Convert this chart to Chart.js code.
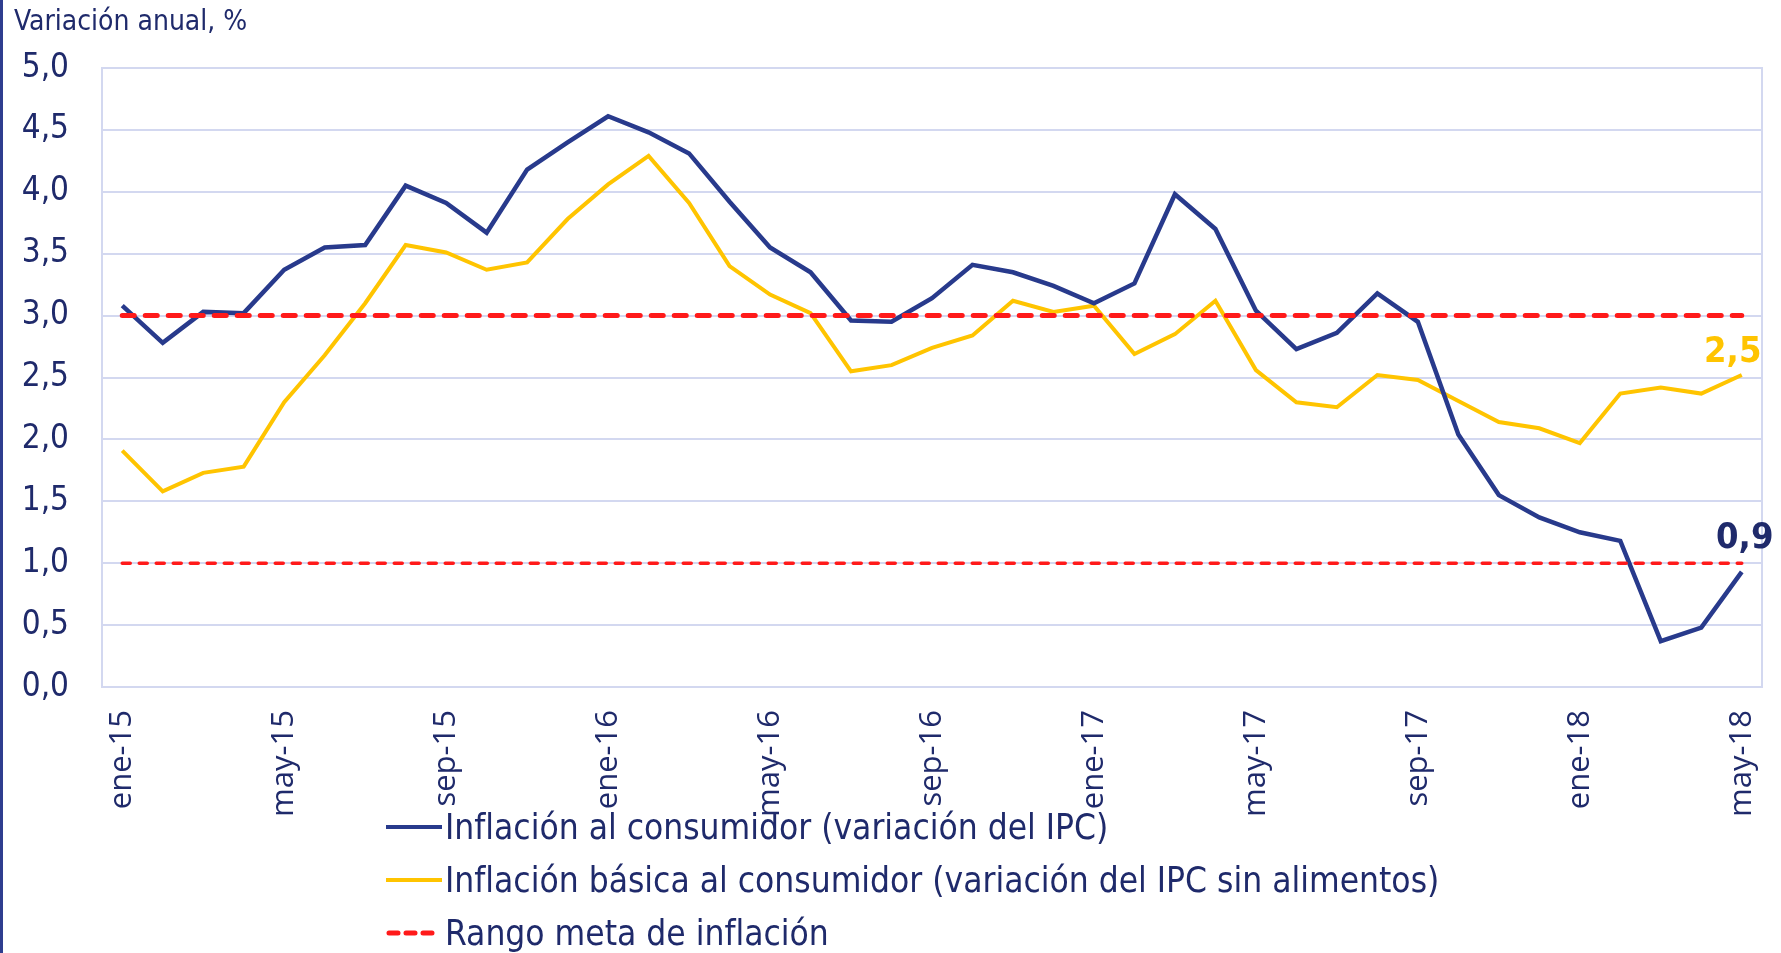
<!DOCTYPE html>
<html lang="es">
<head>
<meta charset="utf-8">
<script src="https://cdn.jsdelivr.net/npm/chart.js@4.4.1/dist/chart.umd.min.js"></script>
<style>
  html, body { margin: 0; padding: 0; background: #fff; }
  #wrap { position: relative; width: 1781px; height: 953px; overflow: hidden; }
  #borde { position: absolute; left: 0; top: 0; width: 3px; height: 953px; background: #2e3d8f; }
  #leyenda { position: absolute; left: 386px; top: 800px; color: #1f2a6b; font-size: 35px;
    font-family: 'Liberation Sans Narrow', 'DejaVu Sans Condensed', sans-serif; }
  .fila { height: 53px; display: flex; align-items: center; white-space: nowrap; }
  .fila svg { width: 56px; height: 10px; margin-right: 3px; flex: none; }
</style>
</head>
<body>
<div id="wrap">
  <canvas id="inflacion" width="1781" height="953"></canvas>
  <div id="borde"></div>
  <div id="leyenda"></div>
</div>
<script>
const meses = [
  'ene-15','feb-15','mar-15','abr-15','may-15','jun-15','jul-15','ago-15','sep-15','oct-15','nov-15','dic-15',
  'ene-16','feb-16','mar-16','abr-16','may-16','jun-16','jul-16','ago-16','sep-16','oct-16','nov-16','dic-16',
  'ene-17','feb-17','mar-17','abr-17','may-17','jun-17','jul-17','ago-17','sep-17','oct-17','nov-17','dic-17',
  'ene-18','feb-18','mar-18','abr-18','may-18'
];

// Inflación al consumidor (variación del IPC)
const ipc = [3.08, 2.78, 3.03, 3.02, 3.37, 3.55, 3.57, 4.05, 3.91, 3.67, 4.18, 4.40,
  4.61, 4.48, 4.31, 3.92, 3.55, 3.35, 2.96, 2.95, 3.14, 3.41, 3.35, 3.24,
  3.10, 3.26, 3.98, 3.70, 3.04, 2.73, 2.86, 3.18, 2.95, 2.04, 1.55, 1.37,
  1.25, 1.18, 0.37, 0.48, 0.93];

// Inflación básica (IPC sin alimentos)
const ipcSinAlimentos = [1.91, 1.58, 1.73, 1.78, 2.30, 2.68, 3.10, 3.57, 3.51, 3.37, 3.43, 3.78,
  4.06, 4.29, 3.91, 3.40, 3.17, 3.02, 2.55, 2.60, 2.74, 2.84, 3.12, 3.03,
  3.08, 2.69, 2.85, 3.12, 2.56, 2.30, 2.26, 2.52, 2.48, 2.31, 2.14, 2.09,
  1.97, 2.37, 2.42, 2.37, 2.52];

// rango meta: límites superior e inferior (inicio y fin del periodo)
const metaSuperior = [3.0, 3.0];
const metaInferior = [1.0, 1.0];

const yTicks = [0, 0.5, 1, 1.5, 2, 2.5, 3, 3.5, 4, 4.5, 5];

const TEXTO = '#1f2a6b';
const AZUL = '#283a8c';
const AMARILLO = '#ffc400';
const ROJO = '#ff1a1a';
const REJILLA = '#d3d8f0';
const FUENTE = "'Liberation Sans Narrow', 'DejaVu Sans Condensed', sans-serif";

const coma = v => v.toFixed(1).replace('.', ',');
const extremos = arr => [{ x: meses[0], y: arr[0] }, { x: meses[meses.length - 1], y: arr[1] }];

// marco del área de trazado
const marco = {
  id: 'marco',
  beforeDatasetsDraw(chart) {
    const { ctx, chartArea: a } = chart;
    ctx.save();
    ctx.strokeStyle = REJILLA;
    ctx.lineWidth = 2;
    ctx.strokeRect(a.left, a.top, a.right - a.left, a.bottom - a.top);
    ctx.restore();
  }
};

// título del eje y y etiquetas de los últimos valores
const textos = {
  id: 'textos',
  afterDraw(chart) {
    const { ctx } = chart;
    const x = chart.scales.x, y = chart.scales.y;
    const n = meses.length - 1;
    ctx.save();
    ctx.fillStyle = TEXTO;
    ctx.font = '28px ' + FUENTE;
    ctx.textAlign = 'left';
    ctx.textBaseline = 'alphabetic';
    ctx.fillText('Variación anual, %', 14, 30);

    ctx.font = 'bold 36px ' + FUENTE;
    ctx.textAlign = 'center';
    ctx.fillStyle = AMARILLO;
    ctx.fillText(coma(ipcSinAlimentos[n]), x.getPixelForValue(n) - 9, y.getPixelForValue(ipcSinAlimentos[n]) - 13);
    ctx.fillStyle = TEXTO;
    ctx.fillText(coma(ipc[n]), x.getPixelForValue(n) + 3, y.getPixelForValue(ipc[n]) - 24);
    ctx.restore();
  }
};

const ctx = document.getElementById('inflacion').getContext('2d');
new Chart(ctx, {
  type: 'line',
  data: {
    labels: meses,
    datasets: [
      { label: 'Inflación al consumidor (variación del IPC)', data: ipc,
        borderColor: AZUL, borderWidth: 4.5, pointRadius: 0, tension: 0, order: 1 },
      { label: 'Inflación básica al consumidor (variación del IPC sin alimentos)', data: ipcSinAlimentos,
        borderColor: AMARILLO, borderWidth: 4, pointRadius: 0, tension: 0, order: 2 },
      { label: 'Rango meta de inflación', data: extremos(metaSuperior),
        borderColor: ROJO, borderWidth: 5, borderDash: [12, 11], borderCapStyle: 'round', pointRadius: 0, order: 0 },
      { label: 'Rango meta de inflación (inferior)', data: extremos(metaInferior),
        borderColor: ROJO, borderWidth: 3.5, borderDash: [8, 9], borderCapStyle: 'round', pointRadius: 0, order: 0 }
    ]
  },
  options: {
    responsive: false,
    animation: false,
    layout: { padding: { top: 68, right: 19, left: 0, bottom: 0 } },
    plugins: { legend: { display: false }, tooltip: { enabled: false } },
    scales: {
      x: {
        type: 'category',
        offset: true,
        grid: { display: false, drawTicks: false },
        border: { display: false },
        afterFit: s => { s.height = 266; s.paddingLeft = 0; s.paddingRight = 0; },
        ticks: {
          autoSkip: false, minRotation: 90, maxRotation: 90, padding: 23,
          color: TEXTO, font: { family: "'Open Sans', sans-serif", size: 31 },
          callback: (v, i) => (i % 4 === 0 ? meses[i] : '')
        }
      },
      y: {
        min: 0, max: 5,
        afterFit: s => { s.width = 102; },
        afterBuildTicks: s => { s.ticks = yTicks.map(v => ({ value: v })); },
        grid: { color: REJILLA, lineWidth: 2, drawTicks: false },
        border: { display: false },
        ticks: { padding: 33, color: TEXTO, font: { family: FUENTE, size: 33 }, callback: v => coma(v) }
      }
    }
  },
  plugins: [marco, textos]
});

// leyenda en HTML, una fila por serie
const leyenda = [
  { texto: 'Inflación al consumidor (variación del IPC)', color: AZUL, dash: '' },
  { texto: 'Inflación básica al consumidor (variación del IPC sin alimentos)', color: AMARILLO, dash: '' },
  { texto: 'Rango meta de inflación', color: ROJO, dash: '9 8' }
];
document.getElementById('leyenda').innerHTML = leyenda.map(l => `
  <div class="fila">
    <svg viewBox="0 0 56 10"><line x1="${l.dash ? 3 : 0}" y1="5" x2="${l.dash ? 53 : 56}" y2="5" stroke="${l.color}"
      stroke-width="${l.dash ? 5 : 4}" stroke-linecap="${l.dash ? 'round' : 'butt'}" stroke-dasharray="${l.dash}"/></svg>
    <span>${l.texto}</span>
  </div>`).join('');
</script>
</body>
</html>
